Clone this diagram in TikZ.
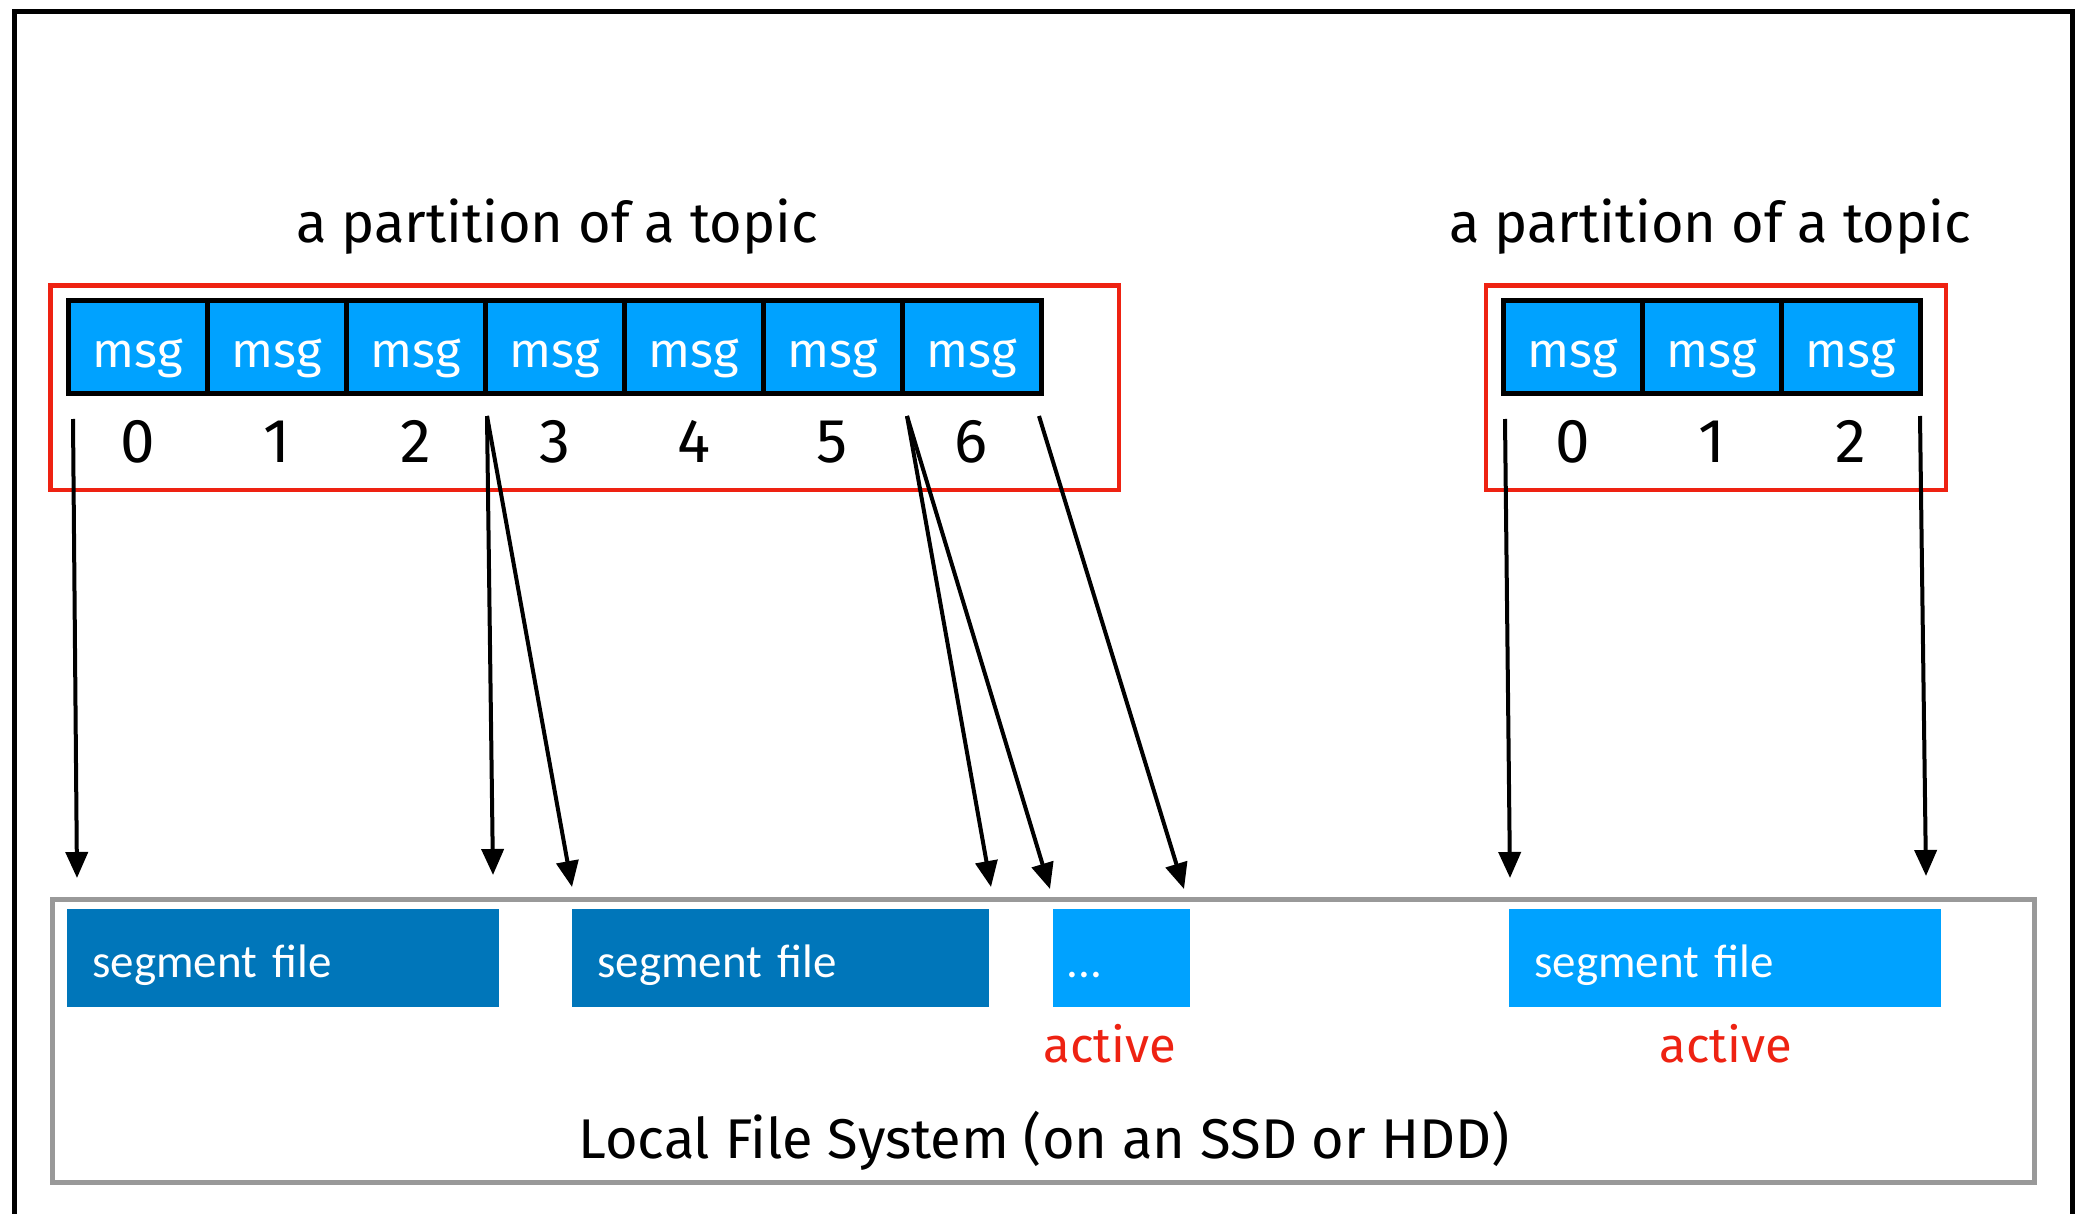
\documentclass[tikz,border=0pt]{standalone}
\usepackage{fontspec}
\setmainfont{Fira Sans}
\newfontfamily\segfont{Carlito}
\usepackage{tikz}
\usetikzlibrary{arrows.meta,positioning}
\definecolor{msgblue}{HTML}{00A2FF}
\definecolor{segblue}{HTML}{0076BA}
\definecolor{partred}{HTML}{EE2212}
\definecolor{fsgray}{HTML}{999999}

\begin{document}
\begin{tikzpicture}[
  x=0.5pt, y=-0.5pt,
  title/.style={font=\fontsize{28}{32}\selectfont, anchor=base, inner sep=0pt},
  msg/.style={draw, line width=2.5pt, fill=msgblue, text=white, font=\fontsize{24.5}{28}\selectfont,
    minimum width=69.5pt, minimum height=46.5pt, inner sep=0pt, outer sep=0pt, text height=24pt, text depth=4pt},
  num/.style={font=\fontsize{31}{34}\selectfont, anchor=base, inner sep=0pt},
  part/.style={draw=partred, line width=2.25pt},
  seg/.style={fill=segblue, text=white, font=\segfont\fontsize{23.5}{28}\selectfont, anchor=north west,
    inner ysep=0pt, inner xsep=12.5pt, text height=34pt, text depth=15pt, align=left},
  active/.style={text=partred, font=\fontsize{24.5}{28}\selectfont, anchor=base, inner sep=0pt},
  arr/.style={-{Triangle[length=13pt,width=11pt]}, line width=2pt}
]
\useasboundingbox (0,0) rectangle (2077,1214);
\draw[line width=2.5pt] (14,1220) -- (14,12) -- (2072,12) -- (2072,1220);

% left partition
\node[title] (t0) at (557,243) {a partition of a topic};
\draw[part] (50.5,285.5) rectangle (1119,490);
\node[msg] (m0) at (137.5,347) {msg};
\node[msg, right=0pt of m0] (m1) {msg};
\node[msg, right=0pt of m1] (m2) {msg};
\node[msg, right=0pt of m2] (m3) {msg};
\node[msg, right=0pt of m3] (m4) {msg};
\node[msg, right=0pt of m4] (m5) {msg};
\node[msg, right=0pt of m5] (m6) {msg};
\node[num] (n0) at (m0.center |- 0,462) {0};
\node[num] (n1) at (m1.center |- 0,462) {1};
\node[num] (n2) at (m2.center |- 0,462) {2};
\node[num] (n3) at (m3.center |- 0,462) {3};
\node[num] (n4) at (m4.center |- 0,462) {4};
\node[num] (n5) at (m5.center |- 0,462) {5};
\node[num] (n6) at (m6.center |- 0,462) {6};

% right partition
\node[title] (t1) at (1710,243) {a partition of a topic};
\draw[part] (1486,285.5) rectangle (1946,490);
\node[msg] (r0) at (1572.5,347) {msg};
\node[msg, right=0pt of r0] (r1) {msg};
\node[msg, right=0pt of r1] (r2) {msg};
\node[num] (k0) at (r0.center |- 0,462) {0};
\node[num] (k1) at (r1.center |- 0,462) {1};
\node[num] (k2) at (r2.center |- 0,462) {2};

% local file system
\draw[draw=fsgray, line width=2.5pt] (52.5,899.5) rectangle (2034.5,1182.5);
\node[seg, text width=191pt] (f0) at (67,909) {segment file};
\node[seg, text width=183.5pt] (f1) at (572,909) {segment file};
\node[seg, fill=msgblue, inner xsep=6.5pt, text width=55.5pt] (f2) at (1053,909) {...};
\node[seg, fill=msgblue, text width=191pt] (f3) at (1509,909) {segment file};
\node[active] (a0) at (1110,1062) {active};
\node[active] (a1) at (1726,1062) {active};
\node[title] (fs) at (1044,1158) {Local File System (on an SSD or HDD)};

% offsets to segments
\coordinate (s0) at (73,419);   \coordinate (e0) at (77,878);
\coordinate (s1) at (487,416);  \coordinate (e1) at (493,875);
\coordinate (e2) at (572,887);
\coordinate (s2) at (907,416);  \coordinate (e3) at (991,887);
\coordinate (e4) at (1050,889);
\coordinate (s3) at (1039,416); \coordinate (e5) at (1184,889);
\coordinate (s4) at (1505,419); \coordinate (e6) at (1510,878);
\coordinate (s5) at (1920,416); \coordinate (e7) at (1926,876);
\draw[arr] (s0) -- (e0);
\draw[arr] (s1) -- (e1);
\draw[arr] (s1) -- (e2);
\draw[arr] (s2) -- (e3);
\draw[arr] (s2) -- (e4);
\draw[arr] (s3) -- (e5);
\draw[arr] (s4) -- (e6);
\draw[arr] (s5) -- (e7);
\end{tikzpicture}
\end{document}
